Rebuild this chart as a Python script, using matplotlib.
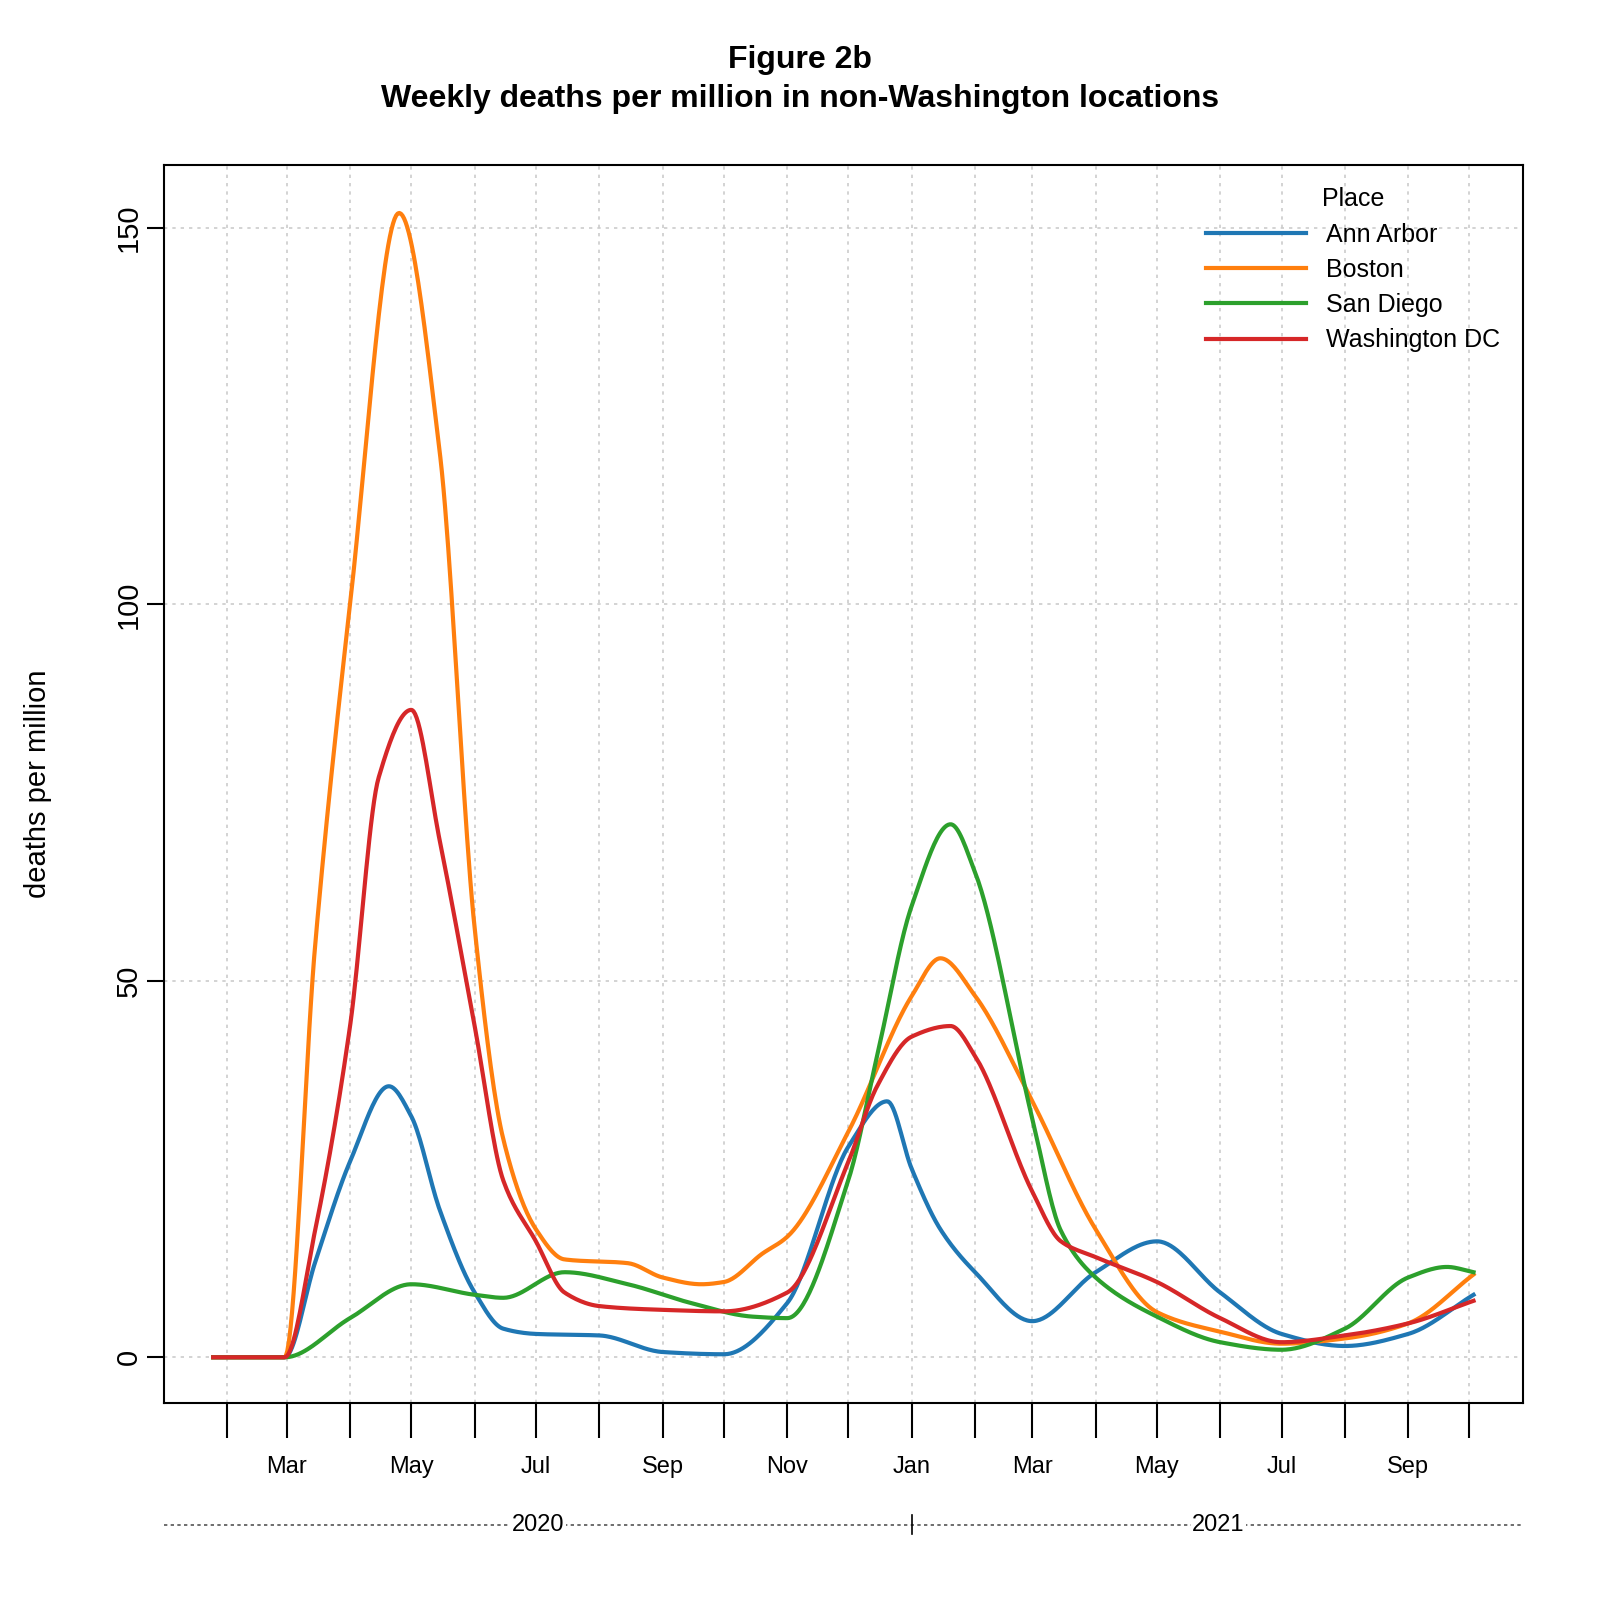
import numpy as np
import matplotlib
matplotlib.use("Agg")
import matplotlib.pyplot as plt
import matplotlib.dates as mdates
import datetime as dt

plt.rcParams['font.family'] = ['Liberation Sans', 'DejaVu Sans']

ann_dates = ["2020-01-25","2020-02-29","2020-03-15","2020-04-01","2020-04-20","2020-05-01","2020-05-15","2020-06-01","2020-06-15","2020-07-01","2020-08-01","2020-09-01","2020-10-01","2020-11-01","2020-12-01","2020-12-20","2021-01-01","2021-01-15","2021-02-01","2021-03-01","2021-04-01","2021-05-01","2021-06-01","2021-07-01","2021-08-01","2021-09-01","2021-10-03"]
ann_vals = [0,0,12.7,26,36,32,19.5,8.6,3.8,3.1,2.9,0.7,0.4,7.2,28,34,25,17,11.3,4.8,11.3,15.4,8.6,3.1,1.5,3.1,8.3]

bos_dates = ["2020-01-25","2020-02-29","2020-03-15","2020-04-01","2020-04-25","2020-05-15","2020-06-01","2020-06-15","2020-07-01","2020-07-15","2020-08-15","2020-09-01","2020-09-20","2020-10-01","2020-10-20","2020-11-01","2020-12-01","2021-01-01","2021-01-15","2021-02-01","2021-03-01","2021-04-01","2021-05-01","2021-06-01","2021-07-01","2021-08-01","2021-09-01","2021-10-03"]
bos_vals = [0,0,55,100,152,120,57,29,17,13,12.5,10.6,9.7,10,13.8,16,30,48,53,48,34,17,6,3.4,1.8,2.5,4.5,11]

sd_dates = ["2020-01-25","2020-02-29","2020-04-01","2020-05-01","2020-06-01","2020-06-15","2020-07-15","2020-08-15","2020-09-15","2020-10-15","2020-11-01","2020-12-01","2020-12-15","2021-01-01","2021-01-20","2021-02-01","2021-03-01","2021-03-15","2021-04-01","2021-05-01","2021-06-01","2021-07-01","2021-08-01","2021-09-01","2021-09-20","2021-10-03"]
sd_vals = [0,0,5.2,9.7,8.3,7.9,11.3,9.7,7.2,5.4,5.2,23.6,40,60,70.8,64.4,31.7,16.8,10.6,5.4,2,1,3.8,10.6,12,11.3]

dc_dates = ["2020-01-25","2020-02-29","2020-03-15","2020-04-01","2020-04-15","2020-05-01","2020-05-15","2020-06-01","2020-06-15","2020-07-01","2020-07-15","2020-08-01","2020-09-01","2020-10-01","2020-11-01","2020-12-01","2020-12-15","2021-01-01","2021-01-20","2021-02-01","2021-03-01","2021-03-15","2021-04-01","2021-05-01","2021-06-01","2021-07-01","2021-08-01","2021-09-01","2021-10-03"]
dc_vals = [0,0,17,44,77,86,68.5,44,23.5,15.4,8.6,6.8,6.3,6.1,8.6,26,36,42.6,44,40,22,15.4,13.3,10,5.2,2,2.9,4.5,7.5]

series = [("Ann Arbor", ann_dates, ann_vals, "#1f77b4"),
          ("Boston", bos_dates, bos_vals, "#ff7f0e"),
          ("San Diego", sd_dates, sd_vals, "#2ca02c"),
          ("Washington DC", dc_dates, dc_vals, "#d62728")]

def pchip(x, y, xn):
    x = np.asarray(x, float); y = np.asarray(y, float)
    h = np.diff(x); d = np.diff(y) / h
    m = np.zeros_like(y)
    for k in range(1, len(y) - 1):
        if d[k-1] * d[k] > 0:
            w1 = 2*h[k] + h[k-1]; w2 = h[k] + 2*h[k-1]
            m[k] = (w1 + w2) / (w1/d[k-1] + w2/d[k])
    m[0] = d[0]; m[-1] = d[-1]
    idx = np.clip(np.searchsorted(x, xn) - 1, 0, len(h) - 1)
    t = (xn - x[idx]) / h[idx]
    h00 = 2*t**3 - 3*t**2 + 1; h10 = t**3 - 2*t**2 + t
    h01 = -2*t**3 + 3*t**2; h11 = t**3 - t**2
    return h00*y[idx] + h10*h[idx]*m[idx] + h01*y[idx+1] + h11*h[idx]*m[idx+1]

fig = plt.figure(figsize=(16, 16), dpi=100)
ax = fig.add_axes([0.1026, 0.123, 0.849, 0.774])

for name, ds, vs, c in series:
    xd = mdates.date2num([dt.date.fromisoformat(s) for s in ds])
    xn = np.linspace(xd[0], xd[-1], 800)
    ax.plot(mdates.num2date(xn), pchip(xd, vs, xn), color=c, lw=3, label=name)

ax.set_xlim(dt.date(2020, 1, 1), dt.date(2021, 10, 27))
ax.set_ylim(-6.1, 158.4)

months = [dt.date(2020 + (m - 1) // 12, (m - 1) % 12 + 1, 1) for m in range(2, 23)]
ax.set_xticks(months)
ax.set_xticklabels([""] * len(months))
ax.tick_params(axis='x', length=25, width=1.5, direction='out')
ax.grid(True, color='#cccccc', linestyle=(0, (2, 3)), lw=1.2)
for m in months:
    if m.month % 2 == 1:
        ax.annotate(m.strftime("%b"), xy=(m, 0), xycoords=('data', 'axes fraction'),
                    xytext=(0, -46), textcoords='offset points', ha='center', va='center', fontsize=17)

ax.set_yticks([0, 50, 100, 150])
ax.set_yticklabels(["0", "50", "100", "150"], rotation=90, va='center', fontsize=21)
ax.tick_params(axis='y', length=12, width=1.5)
ax.set_ylabel("deaths per million", fontsize=21, labelpad=45)
for s in ax.spines.values():
    s.set_linewidth(1.5)

yrow = -0.098
ax.plot([0, 1], [yrow, yrow], transform=ax.transAxes, clip_on=False, color='#555555', ls=(0, (2, 2)), lw=1.2)
ax.plot([dt.date(2021, 1, 1)] * 2, [yrow - 0.008, yrow + 0.008], transform=ax.get_xaxis_transform(), clip_on=False, color='black', lw=1.2)
for lbl, d in [("2020", dt.date(2020, 7, 2)), ("2021", dt.date(2021, 5, 31))]:
    ax.text(d, yrow, lbl, transform=ax.get_xaxis_transform(), ha='center', va='center',
            fontsize=17, bbox=dict(facecolor='white', edgecolor='none', pad=1))

ax.legend(title="Place", loc='upper right', frameon=False, fontsize=18, title_fontsize=18,
          handlelength=4, bbox_to_anchor=(1.0, 1.0), labelspacing=0.45)

fig.suptitle("Figure 2b\nWeekly deaths per million in non-Washington locations",
             fontsize=23, fontweight='bold', y=0.972, linespacing=1.4)
fig.savefig("out.png", dpi=100, facecolor='white')
